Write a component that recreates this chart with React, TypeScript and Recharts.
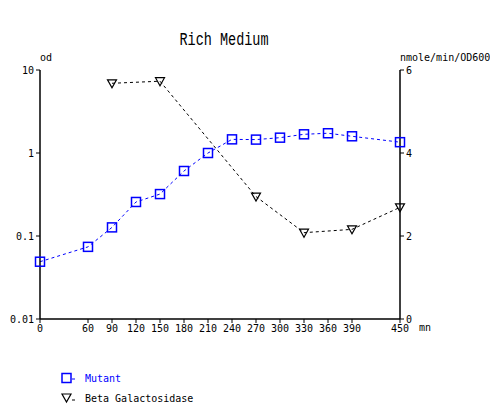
import React from 'react';
import { ComposedChart, Line, XAxis, YAxis } from 'recharts';

// sampling times (mn)
const minutes = [0, 60, 90, 120, 150, 180, 210, 240, 270, 300, 330, 360, 390, 450];
// optical density of the mutant culture (left, log axis)
const mutantOd = [0.049, 0.074, 0.127, 0.257, 0.32, 0.607, 1.0, 1.46, 1.45, 1.53, 1.68, 1.73, 1.59, 1.35];
// beta galactosidase activity, nmole/min/OD600 (right axis)
const betaGal = [null, null, 5.68, null, 5.73, null, null, null, 2.95, null, 2.08, null, 2.16, 2.69];

const xTicks = [0, 60, 90, 120, 150, 180, 210, 240, 270, 300, 330, 360, 390, 450];
const odTicks = [0.01, 0.1, 1, 10];
const odTickLabels = ['0.01', '0.1', '1', '10'];
const activityTicks = [0, 2, 4, 6];

const data = minutes.map((m, i) => ({
  t: m,
  od: mutantOd[i],
  gal: betaGal[i],
}));

const mono = 'DejaVu Sans Mono';
const tickStyle = { fontFamily: mono, fontSize: 10, fill: '#000' };
const axisStroke = { stroke: '#000', strokeWidth: 1.5 };

const SquareDot = (props: any) => {
  const { cx, cy, index } = props;
  if (cx == null || cy == null) return <g key={index} />;
  return <rect key={index} x={cx - 4.5} y={cy - 4.5} width={9} height={9} fill="none" stroke="#0000ff" strokeWidth={1.5} />;
};

const TriangleDot = (props: any) => {
  const { cx, cy, index, value } = props;
  if (cx == null || cy == null || value == null) return <g key={index} />;
  return (
    <path
      key={index}
      d={`M${cx - 4.5},${cy - 3.5} L${cx + 4.5},${cy - 3.5} L${cx},${cy + 4.5} Z`}
      fill="none"
      stroke="#000"
      strokeWidth={1.2}
    />
  );
};

const App: React.FC = () => {
  return (
    <div style={{ position: 'absolute', left: 0, top: 0, width: 490, height: 405, background: '#fff' }}>
      <ComposedChart width={490} height={405} data={data} margin={{ top: 70, right: 0, bottom: 0, left: 0 }}>
        <XAxis
          dataKey="t"
          type="number"
          domain={[0, 450]}
          ticks={xTicks}
          interval={0}
          height={86}
          tickSize={4}
          tick={tickStyle}
          axisLine={axisStroke}
          tickLine={{ stroke: '#000' }}
        />
        <YAxis
          yAxisId="od"
          orientation="left"
          type="number"
          scale="log"
          domain={[0.01, 10]}
          allowDataOverflow
          ticks={odTicks}
          tickFormatter={(v: number) => odTickLabels[odTicks.indexOf(v)] ?? String(v)}
          width={40}
          tickSize={4}
          tick={tickStyle}
          axisLine={axisStroke}
          tickLine={{ stroke: '#000' }}
        />
        <YAxis
          yAxisId="act"
          orientation="right"
          type="number"
          domain={[0, 6]}
          ticks={activityTicks}
          width={90}
          tickSize={4}
          tick={{ ...tickStyle, textAnchor: 'start' }}
          axisLine={axisStroke}
          tickLine={{ stroke: '#000' }}
        />
        <Line
          yAxisId="od"
          dataKey="od"
          type="linear"
          stroke="#0000ff"
          strokeWidth={1}
          strokeDasharray="3 3"
          dot={SquareDot}
          activeDot={false}
          isAnimationActive={false}
        />
        <Line
          yAxisId="act"
          dataKey="gal"
          type="linear"
          stroke="#000"
          strokeWidth={1}
          strokeDasharray="3 3"
          connectNulls
          dot={TriangleDot}
          activeDot={false}
          isAnimationActive={false}
        />
      </ComposedChart>

      <div
        style={{
          position: 'absolute',
          left: 0,
          top: 31,
          width: 448,
          textAlign: 'center',
          fontFamily: 'Liberation Mono',
          fontSize: 13.5,
          transform: 'scaleY(1.3)',
          transformOrigin: 'center top',
        }}
      >
        Rich Medium
      </div>
      <div style={{ position: 'absolute', left: 40, top: 52, fontFamily: mono, fontSize: 10 }}>od</div>
      <div style={{ position: 'absolute', left: 400, top: 52, fontFamily: mono, fontSize: 10 }}>nmole/min/OD600</div>
      <div style={{ position: 'absolute', left: 419, top: 322, fontFamily: mono, fontSize: 10 }}>mn</div>

      <div style={{ position: 'absolute', left: 60, top: 371, display: 'flex', alignItems: 'center', fontFamily: mono, fontSize: 10, color: '#0000ff' }}>
        <svg width={22} height={14}>
          <rect x={2} y={2.5} width={9} height={9} fill="none" stroke="#0000ff" strokeWidth={1.5} />
          <line x1={12} y1={8} x2={18} y2={8} stroke="#0000ff" strokeDasharray="3 3" />
        </svg>
        <span style={{ marginLeft: 3 }}>Mutant</span>
      </div>
      <div style={{ position: 'absolute', left: 60, top: 391, display: 'flex', alignItems: 'center', fontFamily: mono, fontSize: 10, color: '#000' }}>
        <svg width={22} height={14}>
          <path d="M2,3 L11,3 L6.5,11 Z" fill="none" stroke="#000" strokeWidth={1.2} />
          <line x1={12} y1={9} x2={18} y2={9} stroke="#000" strokeDasharray="3 3" />
        </svg>
        <span style={{ marginLeft: 3 }}>Beta Galactosidase</span>
      </div>
    </div>
  );
};

export default App;
